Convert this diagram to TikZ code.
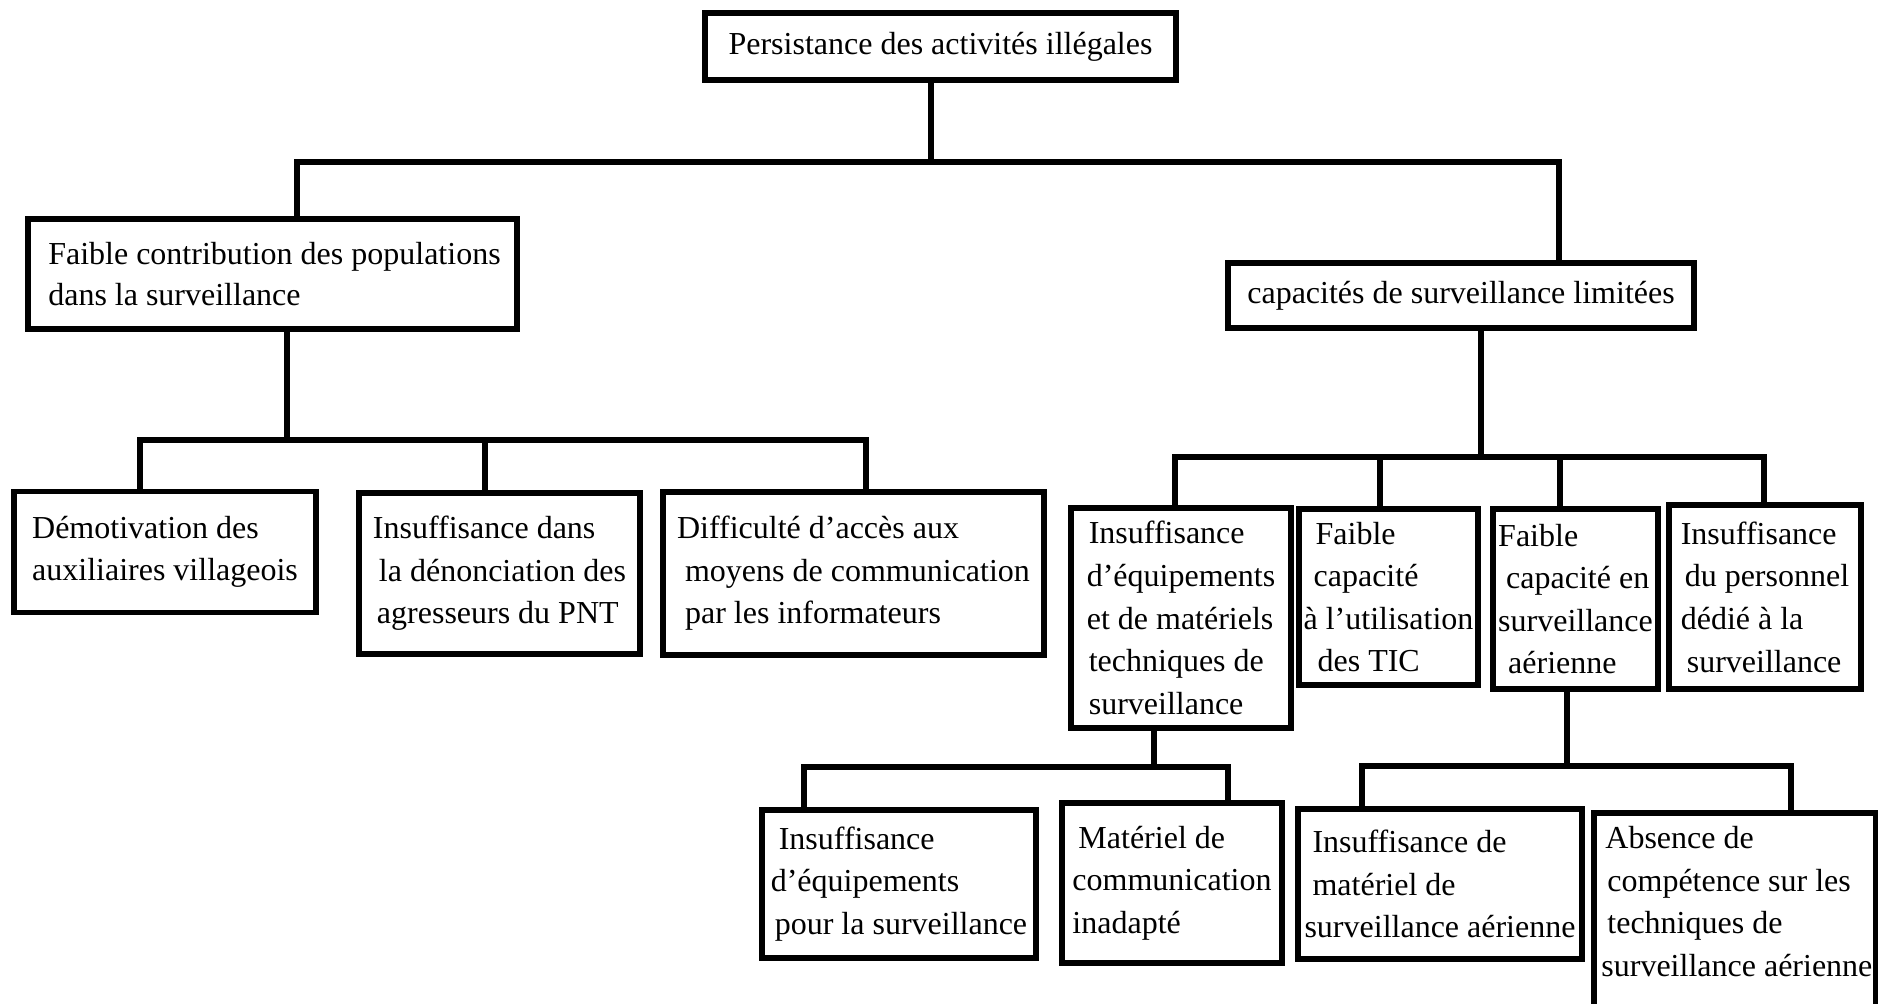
\documentclass[tikz,border=0pt]{standalone}
\usepackage{fontspec}
\setmainfont{Liberation Serif}
\begin{document}
\begin{tikzpicture}[x=0.5pt,y=-0.5pt,
  box/.style={draw, line width=2.6pt, align=left, inner sep=0pt,
    font=\fontsize{16pt}{21.3pt}\selectfont},
  txt/.style={align=left, inner sep=0pt, font=\fontsize{16pt}{21.3pt}\selectfont},
  conn/.style={line width=2.6pt, line cap=rect}]
\useasboundingbox (0,0) rectangle (1878,1003);
% level 0
\node[box, minimum width=235.5pt, minimum height=33.5pt] (top) at (940.5,46.5) {Persistance des activités illégales};
% level 1
\node[box, minimum width=244.5pt, minimum height=55pt, font=\fontsize{16pt}{20.5pt}\selectfont] (contrib) at (272.5,274) {\hspace{2pt}Faible contribution des populations\\\hspace{2pt}dans la surveillance};
\node[box, minimum width=233pt, minimum height=32.5pt] (capac) at (1461,295.5) {capacités de surveillance limitées};
% level 2 left
\node[box, minimum width=151pt, minimum height=60.5pt] (demot) at (165,552) {Démotivation des\\auxiliaires villageois};
\node[box, minimum width=140.5pt, minimum height=80.5pt] (insdans) at (499.5,573.5) {Insuffisance dans\\\hspace{3pt}la dénonciation des\\\hspace{2pt}agresseurs du PNT};
\node[box, minimum width=190.5pt, minimum height=81.5pt] (diff) at (853.5,573.5) {Difficulté d’accès aux\\\hspace{4pt}moyens de communication\\\hspace{4pt}par les informateurs};
% level 2 right
\node[box, minimum width=110pt, minimum height=110pt] (equip) at (1181,618) {\hspace{1pt}Insuffisance\\d’équipements\\et de matériels\\\hspace{1pt}techniques de\\\hspace{1pt}surveillance};
\node[box, minimum width=89.5pt, minimum height=88pt] (tic) at (1388.5,597) {\hspace{6pt}Faible\\\hspace{5pt}capacité\\à l’utilisation\\\hspace{7pt}des TIC};
\node[box, minimum width=82.5pt, minimum height=90pt] (aer) at (1575.5,599) {Faible\\\hspace{4pt}capacité en\\surveillance\\\hspace{5pt}aérienne};
\node[box, minimum width=96pt, minimum height=92pt] (pers) at (1765,597) {Insuffisance\\\hspace{2pt}du personnel\\dédié à la\\\hspace{3pt}surveillance};
% level 3
\node[box, minimum width=137pt, minimum height=74pt] (eqsurv) at (899,884) {\hspace{4pt}Insuffisance\\d’équipements\\\hspace{2pt}pour la surveillance};
\node[box, minimum width=110pt, minimum height=80pt] (matcom) at (1172,883) {\hspace{3pt}Matériel de\\communication\\inadapté};
\node[box, minimum width=142pt, minimum height=75pt] (matae) at (1440,884) {\hspace{4pt}Insuffisance de\\\hspace{4pt}matériel de\\surveillance aérienne};
\node[box, minimum width=141pt, minimum height=108.5pt] (absence) at (1735,921.5) {};
\node[txt, anchor=north west] (absT) at (1601,826) {\hspace{2pt}Absence de\\\hspace{3pt}compétence sur les\\\hspace{3pt}techniques de\\surveillance aérienne};
% connectors level 0 -> 1
\coordinate (j1) at (931,162);
\coordinate (b1l) at (297,162);
\coordinate (b1r) at (1559,162);
\draw[conn] (top.south -| j1) -- (j1);
\draw[conn] (b1l) -- (b1r);
\draw[conn] (b1l) -- (b1l |- contrib.north);
\draw[conn] (b1r) -- (b1r |- capac.north);
% contrib -> children
\coordinate (j2) at (287,440);
\coordinate (b2l) at (140,440);
\coordinate (b2m) at (485,440);
\coordinate (b2r) at (866,440);
\draw[conn] (contrib.south -| j2) -- (j2);
\draw[conn] (b2l) -- (b2r);
\draw[conn] (b2l) -- (b2l |- demot.north);
\draw[conn] (b2m) -- (b2m |- insdans.north);
\draw[conn] (b2r) -- (b2r |- diff.north);
% capac -> children
\coordinate (j3) at (1481,457);
\coordinate (b3a) at (1175,457);
\coordinate (b3b) at (1380,457);
\coordinate (b3c) at (1560,457);
\coordinate (b3d) at (1764,457);
\draw[conn] (capac.south -| j3) -- (j3);
\draw[conn] (b3a) -- (b3d);
\draw[conn] (b3a) -- (b3a |- equip.north);
\draw[conn] (b3b) -- (b3b |- tic.north);
\draw[conn] (b3c) -- (b3c |- aer.north);
\draw[conn] (b3d) -- (b3d |- pers.north);
% equip -> children
\coordinate (j4) at (1154,767);
\coordinate (b4l) at (804,767);
\coordinate (b4r) at (1228,767);
\draw[conn] (equip.south -| j4) -- (j4);
\draw[conn] (b4l) -- (b4r);
\draw[conn] (b4l) -- (b4l |- eqsurv.north);
\draw[conn] (b4r) -- (b4r |- matcom.north);
% aer -> children
\coordinate (j5) at (1567,766);
\coordinate (b5l) at (1362,766);
\coordinate (b5r) at (1791,766);
\draw[conn] (aer.south -| j5) -- (j5);
\draw[conn] (b5l) -- (b5r);
\draw[conn] (b5l) -- (b5l |- matae.north);
\draw[conn] (b5r) -- (b5r |- absence.north);
\end{tikzpicture}
\end{document}
